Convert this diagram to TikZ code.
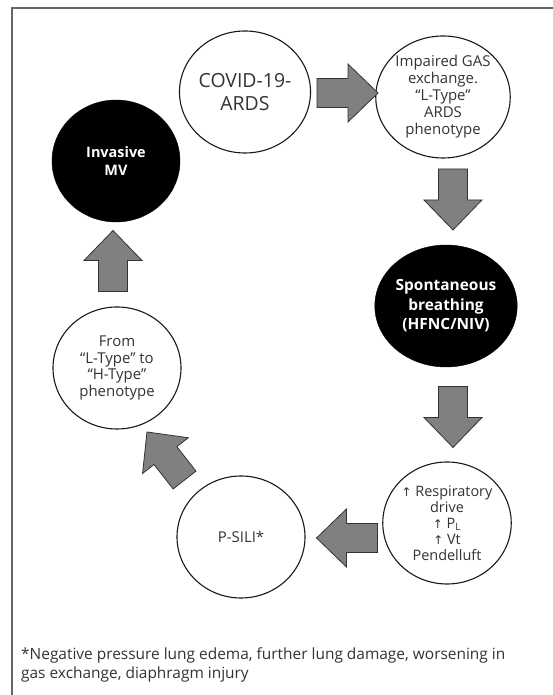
\documentclass[tikz,border=0pt]{standalone}
\usepackage{fontspec}
\setmainfont{Open Sans}
\newfontfamily\symfont{DejaVu Sans}
\usetikzlibrary{shapes.geometric}
\definecolor{txt}{HTML}{333333}
\definecolor{arrowfill}{HTML}{808080}
\definecolor{framecol}{HTML}{666666}
\newcommand{\uparr}{{\symfont\fontsize{12}{14}\selectfont ↑}}
\begin{document}
\begin{tikzpicture}[x=1bp,y=1bp,
  stage/.style={ellipse, draw=black!90, line width=1.1bp, fill=white, minimum width=128bp, minimum height=122bp, inner sep=0pt, align=center, text=txt, font=\fontsize{15}{17}\selectfont},
  darkstage/.style={ellipse, draw=black, fill=black, minimum width=128bp, minimum height=122bp, inner sep=0pt, align=center, text=white, font=\bfseries\fontsize{14.5}{18}\selectfont},
  blockarrow/.pic={
    \path[draw=black!80, line width=0.8bp, fill=arrowfill, line join=miter]
      (-30.5,-14.5) -- (0.5,-14.5) -- (0.5,-29) -- (30.5,0) -- (0.5,29) -- (0.5,14.5) -- (-30.5,14.5) -- cycle;
  }
]
\useasboundingbox (0,0) rectangle (553,695);
\clip (0,0) rectangle (553,695);
\draw[framecol, line width=1.5bp] (12,687) rectangle (600,-40);

\node[stage, font=\fontsize{19.5}{23}\selectfont] (covid) at (245,603) {COVID-19-\\ARDS};
\node[stage] (impaired) at (443,598) {Impaired GAS\\exchange.\\“L-Type”\\ARDS\\phenotype};
\node[darkstage] (invasive) at (116,534) {Invasive\\MV};
\node[darkstage, font=\bfseries\fontsize{15.5}{19.5}\selectfont] (spont) at (446,389) {Spontaneous\\breathing\\(HFNC/NIV)};
\node[stage, font=\fontsize{14.5}{16}\selectfont] (resp) at (447,172) {\uparr\ Respiratory\\drive\\\uparr\ P\textsubscript{L}\\\uparr\ Vt\\Pendelluft};
\node[stage, font=\fontsize{15}{18}\selectfont] (psili) at (241,158) {P-SILI*};
\node[stage, font=\fontsize{15}{16.5}\selectfont] (from) at (117,327) {From\\“L-Type” to\\“H-Type”\\phenotype};

\pic (a1) at (347.5,602) {blockarrow};
\pic[rotate=-90] (a2) at (453,495.5) {blockarrow};
\pic[rotate=-90] (a3) at (453,278) {blockarrow};
\pic[rotate=180] (a4) at (347,157) {blockarrow};
\pic[rotate=128] (a5) at (165.75,239) {blockarrow};
\pic[rotate=90] (a6) at (113,434) {blockarrow};

\node[anchor=west, align=left, text=txt, font=\fontsize{15.5}{18.5}\selectfont, inner sep=0pt] (note) at (21,30) {*Negative pressure lung edema, further lung damage, worsening in\\gas exchange, diaphragm injury};
\end{tikzpicture}
\end{document}
